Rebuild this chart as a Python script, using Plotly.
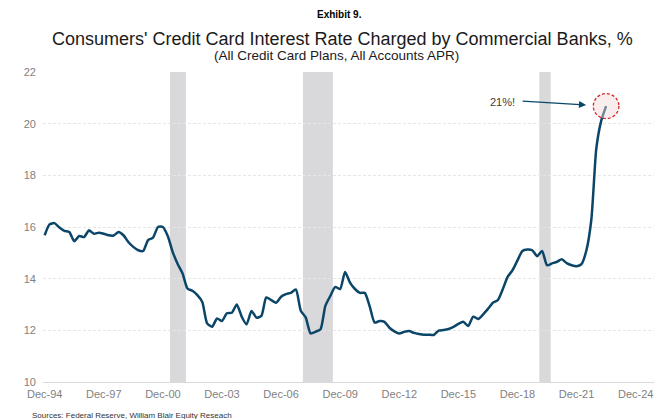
import pandas as pd
import plotly.graph_objects as go

# Quarterly credit card APR (all accounts), starting Dec-1994
start_date = "1994-12-01"
apr_values = [
    15.68, 16.10, 16.15, 15.98, 15.85, 15.81, 15.45, 15.65, 15.61, 15.87,
    15.74, 15.78, 15.74, 15.68, 15.67, 15.81, 15.68, 15.42, 15.23, 15.10,
    15.07, 15.49, 15.59, 16.00, 16.00, 15.65, 15.03, 14.57, 14.20, 13.62,
    13.53, 13.36, 13.10, 12.27, 12.14, 12.46, 12.36, 12.66, 12.68, 13.00,
    12.53, 12.23, 12.75, 12.49, 12.56, 13.27, 13.17, 13.07, 13.30, 13.40,
    13.45, 13.58, 12.76, 12.50, 11.88, 11.95, 12.04, 12.95, 13.33, 13.68,
    13.60, 14.26, 13.85, 13.60, 13.45, 13.45, 12.93, 12.30, 12.36, 12.33,
    12.10, 11.96, 11.88, 11.94, 11.97, 11.90, 11.86, 11.83, 11.83, 11.82,
    11.99, 12.01, 12.05, 12.13, 12.25, 12.33, 12.17, 12.53, 12.44, 12.61,
    12.83, 13.07, 13.17, 13.58, 14.07, 14.33, 14.71, 15.07, 15.13, 15.10,
    14.87, 15.07, 14.52, 14.59, 14.65, 14.75, 14.60, 14.52, 14.48, 14.56,
    15.10, 16.30, 19.03, 20.10, 20.68,
]
dates = pd.date_range(start=start_date, periods=len(apr_values), freq="3MS")

# Recession periods (shaded)
recession_starts = ["2001-04-10", "2008-01-10", "2020-01-10"]
recession_ends = ["2002-02-01", "2009-07-18", "2020-08-08"]

# X tick labels every three years
tick_dates = pd.date_range(start="1994-12-01", end="2024-12-01", freq="36MS")
tick_text = [d.strftime("%b-%y") for d in tick_dates]

y_ticks = [10, 12, 14, 16, 18, 20, 22]

LINE_COLOR = "#0b4668"
GRAY_TEXT = "#7f7f7f"
FONT = "Liberation Sans, Arial, sans-serif"

fig = go.Figure()

fig.add_trace(go.Scatter(
    x=dates, y=apr_values, mode="lines",
    line=dict(color=LINE_COLOR, width=2.5, shape="spline", smoothing=0.6),
    hoverinfo="x+y", showlegend=False,
))

shapes = []
for s, e in zip(recession_starts, recession_ends):
    shapes.append(dict(
        type="rect", xref="x", yref="paper", x0=s, x1=e, y0=0, y1=1,
        fillcolor="#d9d9db", line=dict(width=0), layer="below",
    ))

# Dashed circle around the latest reading
last_date = dates[-1]
last_val = apr_values[-1]
shapes.append(dict(
    type="circle", xref="x", yref="y",
    xsizemode="pixel", ysizemode="pixel",
    xanchor=last_date, yanchor=last_val,
    x0=-12.8, x1=12.8, y0=-12.5, y1=12.5,
    fillcolor="rgba(245,215,215,0.45)",
    line=dict(color="#d62728", width=1.3, dash="3px,2px"),
))

annotations = [
    dict(text="<b>Exhibit 9.</b>", xref="paper", yref="paper", x=0.486, y=1.187,
         showarrow=False, font=dict(size=10, color="#000000", family=FONT),
         xanchor="center", yanchor="middle"),
    dict(text="Consumers' Credit Card Interest Rate Charged by Commercial Banks, %",
         xref="paper", yref="paper", x=0.490, y=1.108, showarrow=False,
         font=dict(size=18, color="#1a1a1a", family=FONT),
         xanchor="center", yanchor="middle"),
    dict(text="(All Credit Card Plans, All Accounts APR)",
         xref="paper", yref="paper", x=0.480, y=1.053, showarrow=False,
         font=dict(size=13.5, color="#1a1a1a", family=FONT),
         xanchor="center", yanchor="middle"),
    dict(text="Sources: Federal Reserve, William Blair Equity Reseach",
         xref="paper", yref="paper", x=-0.022, y=-0.088, showarrow=False,
         font=dict(size=8, color="#333333", family=FONT),
         xanchor="left", yanchor="top"),
    # arrow pointing at the latest value
    dict(text="", x=last_date, y=last_val, xref="x", yref="y",
         showarrow=True, ax=-85, ay=-5, axref="pixel", ayref="pixel",
         arrowhead=2, arrowsize=1.1, arrowwidth=1.3, arrowcolor=LINE_COLOR,
         standoff=20),
    dict(text="21%!", x=last_date, y=last_val, xref="x", yref="y",
         showarrow=False, xshift=-104, yshift=4,
         font=dict(size=11, color="#404040", family=FONT),
         xanchor="center", yanchor="middle"),
]

fig.update_layout(
    width=654, height=419,
    margin=dict(l=43, r=0, t=72, b=37),
    paper_bgcolor="white", plot_bgcolor="white",
    font=dict(family=FONT, size=11, color=GRAY_TEXT),
    shapes=shapes, annotations=annotations,
    showlegend=False,
)

fig.update_xaxes(
    type="date", range=["1994-10-31", "2025-11-05"],
    tickvals=tick_dates, ticktext=tick_text,
    showgrid=False, zeroline=False,
    showline=True, linecolor="#d9d9d9", linewidth=1,
    ticks="", tickfont=dict(size=11, color=GRAY_TEXT), ticklabelstandoff=2,
)
fig.update_yaxes(
    range=[10, 22], tickvals=y_ticks,
    showgrid=True, gridcolor="#e6e6e6", gridwidth=1, griddash="3px,2px",
    zeroline=False, showline=False, ticks="",
    tickfont=dict(size=11, color=GRAY_TEXT), ticklabelstandoff=6,
)

fig.write_html("out.html")
